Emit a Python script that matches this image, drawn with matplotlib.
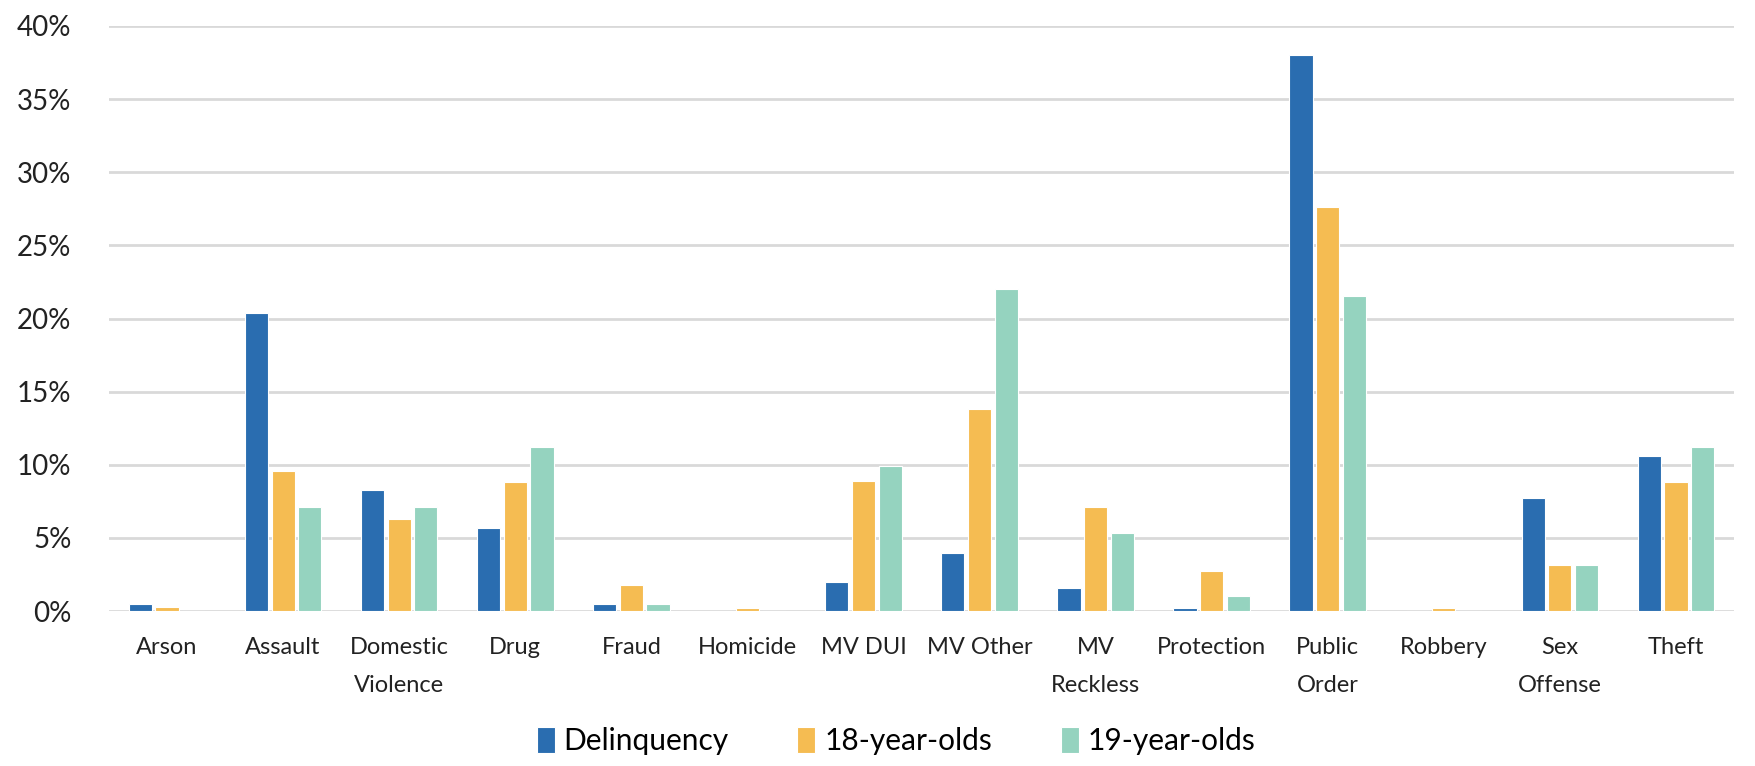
import matplotlib
matplotlib.use("Agg")
import matplotlib.pyplot as plt
from matplotlib.ticker import FuncFormatter
import numpy as np

plt.rcParams['font.family'] = ['Lato', 'DejaVu Sans']

# ----- data (percent of cases) -----
categories = ['Arson', 'Assault', 'Domestic\nViolence', 'Drug', 'Fraud', 'Homicide',
              'MV DUI', 'MV Other', 'MV\nReckless', 'Protection', 'Public\nOrder',
              'Robbery', 'Sex\nOffense', 'Theft']
delinquency = [0.45, 20.4, 8.3, 5.7, 0.45, 0.0, 2.0, 4.0, 1.6, 0.2, 38.0, 0.0, 7.7, 10.6]
age_18 = [0.25, 9.6, 6.3, 8.85, 1.8, 0.23, 8.9, 13.8, 7.1, 2.75, 27.6, 0.2, 3.15, 8.85]
age_19 = [0.0, 7.1, 7.1, 11.2, 0.45, 0.0, 9.9, 22.0, 5.35, 1.0, 21.55, 0.0, 3.15, 11.2]
series_names = ['Delinquency', '18-year-olds', '19-year-olds']
colors = ['#2a6db0', '#f5bc52', '#95d3bf']
yticks = [0, 5, 10, 15, 20, 25, 30, 35, 40]

fig = plt.figure(figsize=(17.56, 7.66), dpi=100)
ax = fig.add_axes([109 / 1756, 1 - 611 / 766, (1734 - 109) / 1756, (611 - 26) / 766])

x = np.arange(len(categories))
width = 0.2
step = 0.23
for i, (vals, name, c) in enumerate(zip([delinquency, age_18, age_19], series_names, colors)):
    ax.bar(x + (i - 1) * step, vals, width, color=c, label=name,
           edgecolor='white', linewidth=0.8, zorder=3)

# ----- axes styling -----
ax.set_xlim(-0.5, len(categories) - 0.5)
ax.set_ylim(0, 40)
ax.set_yticks(yticks)
ax.yaxis.set_major_formatter(FuncFormatter(lambda v, p: '%d%%' % v))
ax.grid(axis='y', color='#d9d9d9', linewidth=2, zorder=0)
ax.set_xticks(x)
ax.set_xticklabels(categories, fontsize=17, color='#222222', linespacing=1.95)
ax.tick_params(axis='y', labelsize=20, colors='#222222', length=0, pad=27)
ax.tick_params(axis='x', length=0, pad=19)
for s in ax.spines.values():
    s.set_visible(False)

fig.legend(loc='center', bbox_to_anchor=(896 / 1756, 1 - 741 / 766), ncol=3,
           frameon=False, fontsize=21.5, handlelength=0.6, handleheight=1.0,
           handletextpad=0.3, columnspacing=2.3)

fig.savefig('out.png', dpi=100)
